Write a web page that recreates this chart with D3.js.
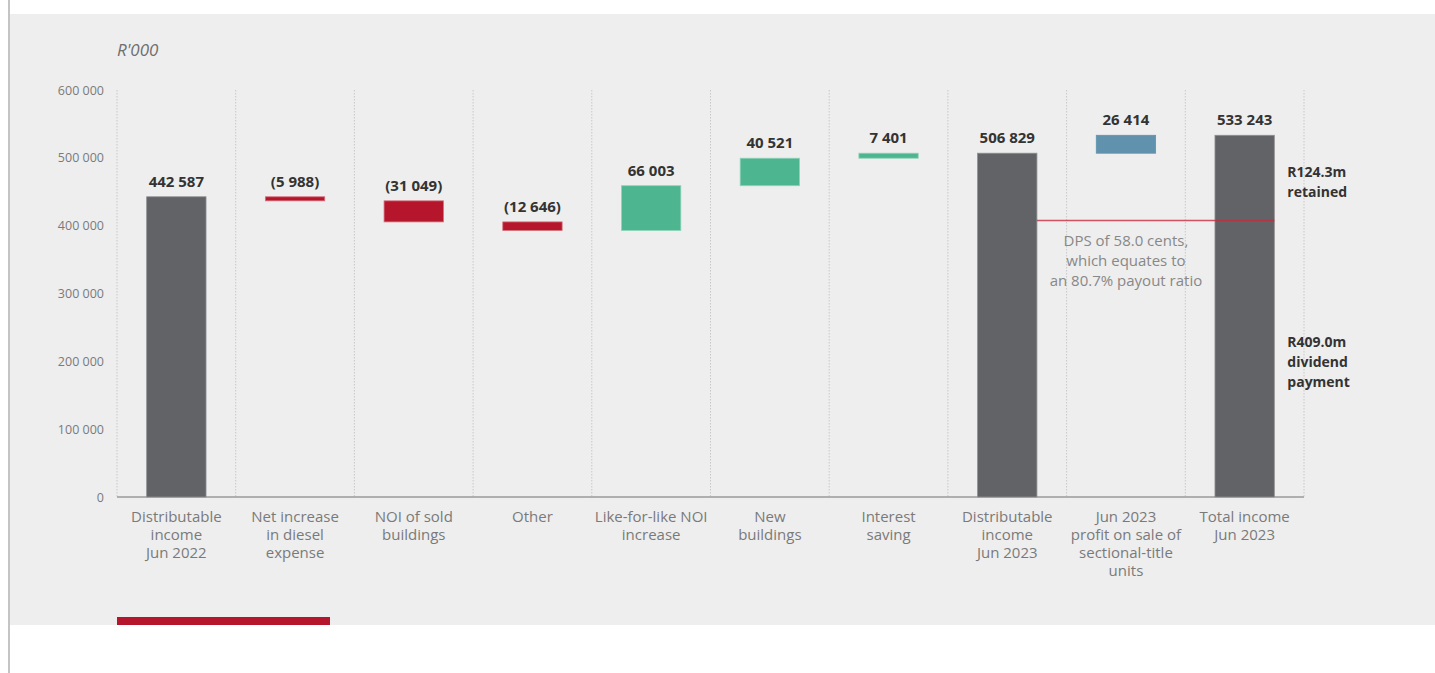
<!DOCTYPE html>
<html>
<head>
<meta charset="utf-8">
<script src="https://cdn.jsdelivr.net/npm/d3@7"></script>
<style>
  html, body { margin: 0; padding: 0; background: #ffffff; }
  svg { display: block; }
</style>
</head>
<body>
<svg id="chart" width="1435" height="673"></svg>
<script>
// Distributable income bridge, Jun 2022 -> Jun 2023 (R'000)
const categories = [
  ["Distributable", "income", "Jun 2022"],
  ["Net increase", "in diesel", "expense"],
  ["NOI of sold", "buildings"],
  ["Other"],
  ["Like-for-like NOI", "increase"],
  ["New", "buildings"],
  ["Interest", "saving"],
  ["Distributable", "income", "Jun 2023"],
  ["Jun 2023", "profit on sale of", "sectional-title", "units"],
  ["Total income", "Jun 2023"]
];
// "total" bars start at zero; the others float on the running total
const barKinds = ["total", "decrease", "decrease", "decrease", "increase", "increase", "increase", "total", "sale", "total"];
const values = [442587, -5988, -31049, -12646, 66003, 40521, 7401, 506829, 26414, 533243];
const yTicks = [0, 100000, 200000, 300000, 400000, 500000, 600000];
const dividendPaid = 409000;   // R409.0m dividend payment
const retained = 124300;       // R124.3m retained
const unitLabel = "R'000";
const noteLines = ["DPS of 58.0 cents,", "which equates to", "an 80.7% payout ratio"];
const retainedLines = ["R124.3m", "retained"];
const dividendLines = ["R409.0m", "dividend", "payment"];

const kindColors = { total: "#626366", decrease: "#b5162b", increase: "#4db690", sale: "#6092ad" };
const kindEdges = { total: "#8e8f92", decrease: "#d4707c", increase: "#8fd3b8", sale: "#6092ad" };

const svg = d3.select("#chart");
const FONT = "'Open Sans', 'DejaVu Sans', sans-serif";

// panel + frame
svg.append("rect").attr("x", 10).attr("y", 14).attr("width", 1425).attr("height", 611).attr("fill", "#eeeeee");
svg.append("line").attr("x1", 9).attr("x2", 9).attr("y1", 0).attr("y2", 673)
  .attr("stroke", "#c4c4c4").attr("stroke-width", 2);
svg.append("rect").attr("x", 117).attr("y", 617).attr("width", 213).attr("height", 8).attr("fill", "#b5162b");

const x = d3.scaleBand().domain(d3.range(categories.length)).range([117, 1304])
  .paddingInner(0.5).paddingOuter(0.25);
const y = d3.scaleLinear().domain([0, 600000]).range([497, 90]);
const step = x.step();

// running totals for the waterfall
let running = 0;
const bars = values.map((v, i) => {
  let lo, hi;
  if (barKinds[i] === "total") { lo = 0; hi = v; running = v; }
  else { lo = Math.min(running, running + v); hi = Math.max(running, running + v); running += v; }
  return { i, v, lo, hi, kind: barKinds[i] };
});

// dotted band separators
const g = svg.append("g");
g.selectAll("line.sep").data(d3.range(categories.length + 1)).join("line")
  .attr("x1", d => 117 + d * step).attr("x2", d => 117 + d * step)
  .attr("y1", y(600000)).attr("y2", y(0))
  .attr("stroke", "#c8c8c8").attr("stroke-width", 1).attr("stroke-dasharray", "1.5,1.5");

// y axis labels
const locale = d3.formatLocale({ decimal: ".", thousands: " ", grouping: [3], currency: ["", ""] });
const fmt = locale.format(",d");
const yAxis = d3.axisLeft(y).tickValues(yTicks).tickSize(0).tickPadding(13).tickFormat(fmt);
const ya = svg.append("g").attr("transform", "translate(117,0)").call(yAxis);
ya.select(".domain").remove();
ya.selectAll("text").attr("font-family", FONT).attr("font-size", 12.5).attr("fill", "#7a7a7a");

// x baseline
svg.append("line").attr("x1", 117).attr("x2", 1304).attr("y1", y(0)).attr("y2", y(0))
  .attr("stroke", "#9a9a9a").attr("stroke-width", 1.5);

// bars
svg.append("g").selectAll("rect").data(bars).join("rect")
  .attr("x", d => x(d.i)).attr("width", x.bandwidth())
  .attr("y", d => y(d.hi)).attr("height", d => y(d.lo) - y(d.hi))
  .attr("fill", d => kindColors[d.kind])
  .attr("stroke", d => kindEdges[d.kind]).attr("stroke-width", 0.8);

// value labels
svg.append("g").selectAll("text").data(bars).join("text")
  .attr("x", d => x(d.i) + x.bandwidth() / 2)
  .attr("y", d => y(d.hi) - 10)
  .attr("text-anchor", "middle")
  .attr("font-family", FONT).attr("font-weight", 700).attr("font-size", 15)
  .attr("fill", "#333333")
  .text(d => d.v < 0 ? "(" + fmt(-d.v) + ")" : fmt(d.v));

// category labels
const cat = svg.append("g").selectAll("text").data(categories).join("text")
  .attr("text-anchor", "middle")
  .attr("font-family", FONT).attr("font-size", 15).attr("fill", "#7a7a7a")
  .attr("transform", (d, i) => `translate(${x(i) + x.bandwidth() / 2},522)`);
cat.selectAll("tspan").data(d => d).join("tspan")
  .attr("x", 0).attr("dy", (d, j) => j === 0 ? 0 : 18).text(d => d);

// dividend / retained split line
const iDist = 7, iTotal = 9;
svg.append("line")
  .attr("x1", x(iDist) + x.bandwidth()).attr("x2", x(iTotal) + x.bandwidth())
  .attr("y1", Math.round(y(dividendPaid)) + 0.5).attr("y2", Math.round(y(dividendPaid)) + 0.5)
  .attr("stroke", "#c62a3e").attr("stroke-opacity", 0.8).attr("stroke-width", 1.5);

// payout note
const noteX = (x(iDist) + x.bandwidth() + x(iTotal)) / 2;
svg.append("text").attr("text-anchor", "middle")
  .attr("font-family", FONT).attr("font-size", 15).attr("fill", "#888888")
  .selectAll("tspan").data(noteLines).join("tspan")
  .attr("x", noteX).attr("y", (d, j) => y(dividendPaid) + 26 + j * 20).text(d => d);

// side annotations on total income bar
const sideX = x(iTotal) + x.bandwidth() + 13;
function sideLabel(lines, top) {
  svg.append("text").attr("font-family", FONT).attr("font-weight", 700)
    .attr("font-size", 14).attr("fill", "#333333")
    .selectAll("tspan").data(lines).join("tspan")
    .attr("x", sideX).attr("y", (d, j) => top + j * 20).text(d => d);
}
sideLabel(retainedLines, 177);
sideLabel(dividendLines, 347);

// unit label
svg.append("text").attr("x", 117).attr("y", 56)
  .attr("font-family", FONT).attr("font-style", "italic").attr("font-size", 17)
  .attr("fill", "#6f6f6f").text(unitLabel);
</script>
</body>
</html>
